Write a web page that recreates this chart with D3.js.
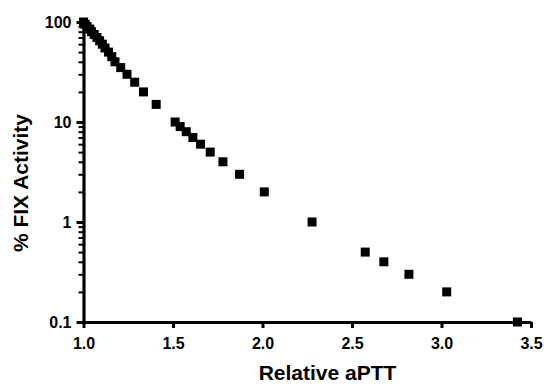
<!DOCTYPE html>
<html>
<head>
<meta charset="utf-8">
<script src="https://cdn.jsdelivr.net/npm/d3@7/dist/d3.min.js"></script>
<style>
  body { margin: 0; background: #fff; }
  text { font-family: Arial, "Liberation Sans", sans-serif; font-weight: bold; }
</style>
</head>
<body>
<svg id="chart" width="544" height="386"></svg>
<script>
// data
const relAptt = [1.0, 1.01, 1.02, 1.035, 1.045, 1.06, 1.075, 1.09, 1.105, 1.12, 1.14, 1.158, 1.176,
  1.208, 1.243, 1.286, 1.335, 1.406, 1.512, 1.54, 1.574, 1.611, 1.654, 1.708, 1.779, 1.872,
  2.01, 2.277, 2.574, 2.678, 2.818, 3.029, 3.424];
const fixActivity = [100, 95, 90, 85, 80, 75, 70, 65, 60, 55, 50, 45, 40,
  35, 30, 25, 20, 15, 10, 9, 8, 7, 6, 5, 4, 3,
  2, 1, 0.5, 0.4, 0.3, 0.2, 0.1];
const xTicks = [1.0, 1.5, 2.0, 2.5, 3.0, 3.5];
const yTicks = [0.1, 1, 10, 100];

const svg = d3.select('#chart');

const x = d3.scaleLinear().domain([1, 3.5]).range([83.5, 531]);
const y = d3.scaleLog().domain([0.1, 100]).range([322, 22]);

// minor ticks 2..9 of each decade
const minor = [];
[0.1, 1, 10].forEach(d => {
  for (let k = 2; k <= 9; k++) minor.push(d * k);
});

const xAxis = d3.axisBottom(x)
    .tickValues(xTicks)
    .tickFormat(d3.format('.1f'))
    .tickSize(6)
    .tickSizeOuter(0)
    .tickPadding(10);

const yAxis = d3.axisLeft(y)
    .tickValues(yTicks)
    .tickFormat(d => d < 1 ? d3.format('.1f')(d) : d3.format('d')(d))
    .tickSize(7)
    .tickSizeOuter(0)
    .tickPadding(5);

const yMinor = d3.axisLeft(y)
    .tickValues(minor)
    .tickFormat('')
    .tickSize(5)
    .tickSizeOuter(0);

const yMinorG = svg.append('g')
    .attr('transform', `translate(${x(1)},0)`)
    .call(yMinor);
yMinorG.select('.domain').remove();
yMinorG.selectAll('line').attr('stroke-width', 2);

const xAxisG = svg.append('g')
    .attr('transform', `translate(0,${y(0.1)})`)
    .call(xAxis);

const yAxisG = svg.append('g')
    .attr('transform', `translate(${x(1)},0)`)
    .call(yAxis);

[xAxisG, yAxisG].forEach(g => {
  g.select('.domain').attr('stroke-width', 3.2);
  g.selectAll('.tick line').attr('stroke-width', 3);
  g.selectAll('.tick text')
      .attr('fill', '#000')
      .style('font-size', '16px')
      .style('font-weight', 'bold')
      .style('font-family', 'Arial, "Liberation Sans", sans-serif');
});

// markers
const size = 9;
svg.append('g')
  .selectAll('rect')
  .data(relAptt)
  .join('rect')
    .attr('x', (d, i) => x(d) - size / 2)
    .attr('y', (d, i) => y(fixActivity[i]) - size / 2)
    .attr('width', size)
    .attr('height', size)
    .attr('fill', '#000');

// axis titles
svg.append('text')
    .attr('x', 327.5)
    .attr('y', 379.5)
    .attr('text-anchor', 'middle')
    .style('font-size', '21px')
    .text('Relative aPTT');

svg.append('text')
    .attr('transform', 'translate(28,183) rotate(-90)')
    .attr('text-anchor', 'middle')
    .style('font-size', '21px')
    .text('% FIX Activity');
</script>
</body>
</html>
